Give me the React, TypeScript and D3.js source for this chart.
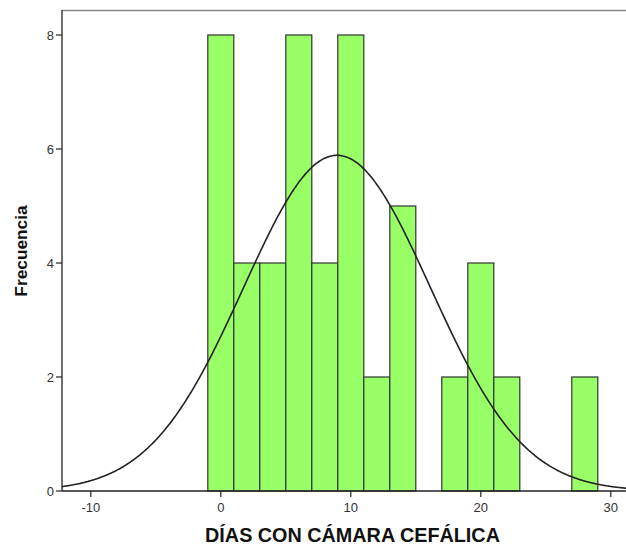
import React from "react";
import * as d3 from "d3";

const binStarts = [-1, 1, 3, 5, 7, 9, 11, 13, 15, 17, 19, 21, 23, 25, 27];
const counts = [8, 4, 4, 8, 4, 8, 2, 5, 0, 2, 4, 2, 0, 0, 2];
const binWidth = 2;
const xTicks = [-10, 0, 10, 20, 30];
const yTicks = [0, 2, 4, 6, 8];
const meanVal = 8.94;
const sdVal = 7.18;
const xTitle = "DÍAS CON CÁMARA CEFÁLICA";
const yTitle = "Frecuencia";

export default function App() {
  const W = 626, H = 547;
  const left = 62, right = 640, top = 10, bottom = 491;
  const x = d3.scaleLinear().domain([0, 30]).range([220.8, 610.8]);
  const y = d3.scaleLinear().domain([0, 8]).range([bottom, 35]);
  const xMin = x.invert(left), xMax = x.invert(right);
  const N = d3.sum(counts);
  const pts = d3.range(xMin, xMax, 0.1).map((v) => [
    v,
    (N * binWidth) / (sdVal * Math.sqrt(2 * Math.PI)) * Math.exp(-0.5 * ((v - meanVal) / sdVal) ** 2),
  ]);
  const line = d3.line<number[]>().x((d) => x(d[0])).y((d) => y(d[1])).curve(d3.curveBasis);
  const font = "'Liberation Sans', Arial, sans-serif";
  return (
    <svg width={W} height={H} style={{ position: "absolute", left: 0, top: 0 }}>
      <rect x={0} y={0} width={W} height={H} fill="#fff" />
      <line x1={left} x2={right} y1={top + 0.5} y2={top + 0.5} stroke="#888" strokeWidth={1.5} />
      {binStarts.map((b, i) =>
        counts[i] > 0 ? (
          <rect
            key={i}
            x={x(b)}
            y={y(counts[i])}
            width={x(b + binWidth) - x(b)}
            height={bottom - y(counts[i])}
            fill="#99ff66"
            stroke="#333"
            strokeWidth={1.2}
          />
        ) : null
      )}
      <path d={line(pts) || ""} fill="none" stroke="#222" strokeWidth={1.6} />
      <line x1={left} x2={right} y1={bottom} y2={bottom} stroke="#222" strokeWidth={1.3} />
      <line x1={left} x2={left} y1={top} y2={bottom} stroke="#222" strokeWidth={1.3} />
      {yTicks.map((t) => (
        <g key={t}>
          <line x1={left - 6} x2={left} y1={y(t)} y2={y(t)} stroke="#222" strokeWidth={1.2} />
          <text x={left - 8} y={y(t) + 4.5} textAnchor="end" fontSize={13} fontFamily={font} fill="#333">
            {t}
          </text>
        </g>
      ))}
      {xTicks.map((t) => (
        <g key={t}>
          <line x1={x(t)} x2={x(t)} y1={bottom} y2={bottom + 6} stroke="#222" strokeWidth={1.2} />
          <text x={x(t)} y={bottom + 21} textAnchor="middle" fontSize={13} fontFamily={font} fill="#333">
            {t}
          </text>
        </g>
      ))}
      <text x={352.5} y={541.5} textAnchor="middle" fontSize={19.8} fontWeight="bold" fontFamily={font} fill="#111">
        {xTitle}
      </text>
      <text
        transform={`translate(27,251) rotate(-90)`}
        textAnchor="middle"
        fontSize={17.3}
        fontWeight="bold"
        fontFamily={font}
        fill="#111"
      >
        {yTitle}
      </text>
    </svg>
  );
}
